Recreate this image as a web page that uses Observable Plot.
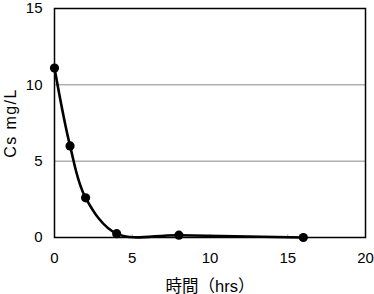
<!DOCTYPE html>
<html><head><meta charset="utf-8">
<script src="https://cdn.jsdelivr.net/npm/d3@7"></script>
<script src="https://cdn.jsdelivr.net/npm/@observablehq/plot@0.6"></script>
<style>
html,body{margin:0;padding:0;background:#fff;}
</style>
</head><body>
<div id="chart"></div>
<script>
const hours = [0, 1, 2, 4, 8, 16];
const cs = [11.1, 6.0, 2.6, 0.25, 0.15, 0.0];
const xTicks = [0, 5, 10, 15, 20];
const yTicks = [0, 5, 10, 15];
const xLabel = "時間（hrs）";
const yLabel = "Cs mg/L";

const data = hours.map((h, i) => ({h, c: cs[i]}));
const font = "'Liberation Sans', 'Noto Sans CJK JP', sans-serif";

const chart = Plot.plot({
  width: 374,
  height: 294,
  marginLeft: 54,
  marginTop: 8,
  marginRight: 9,
  marginBottom: 57,
  style: {fontFamily: font, fontSize: "15px", color: "#000", background: "#fff", overflow: "visible"},
  x: {domain: [0, 20], ticks: xTicks},
  y: {domain: [0, 15], ticks: yTicks},
  marks: [
    Plot.gridY([5, 10], {stroke: "#888", strokeOpacity: 1, strokeWidth: 1}),
    Plot.ruleX([5, 10, 15], {y1: 0, y2: 0.18, stroke: "#aaa"}),
    Plot.frame({stroke: "#000", strokeWidth: 1.5}),
    Plot.axisX(xTicks, {tickSize: 0, tickPadding: 15, fontSize: 15, label: xLabel, labelAnchor: "center", labelArrow: "none", labelOffset: 54}),
    Plot.axisY(yTicks, {tickSize: 0, tickPadding: 12, fontSize: 15, label: yLabel, labelAnchor: "center", labelArrow: "none", labelOffset: 50}),
    Plot.line(data, {x: "h", y: "c", curve: "catmull-rom", stroke: "#000", strokeWidth: 2.6}),
    Plot.dot(data, {x: "h", y: "c", r: 4.6, fill: "#000", stroke: "none"})
  ]
});
document.getElementById("chart").appendChild(chart);
d3.select(chart).selectAll("g[aria-label='y-axis label'] text")
  .style("font-size", "16px").style("letter-spacing", "1.4px");
d3.select(chart).selectAll("g[aria-label='x-axis label'] text")
  .style("font-size", "16.5px");
</script>
</body></html>
